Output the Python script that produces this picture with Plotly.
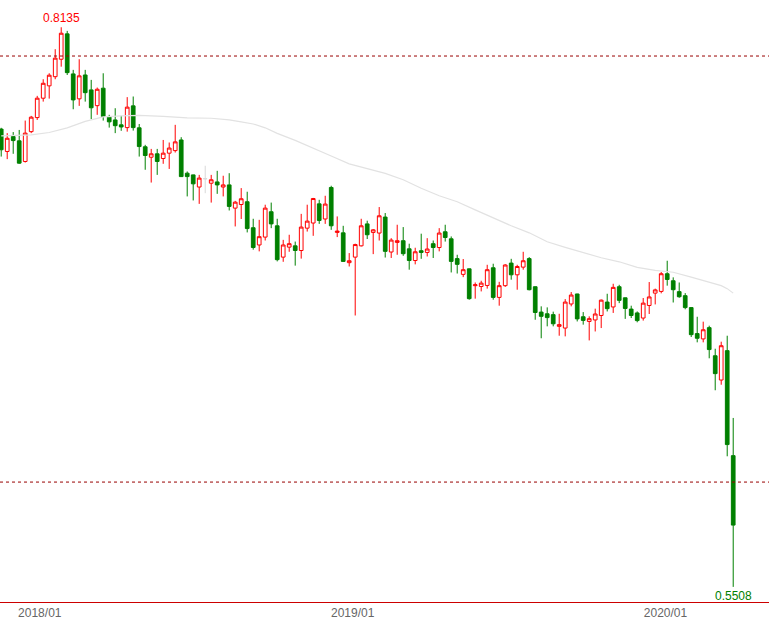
import plotly.graph_objects as go
import pandas as pd

# ---- data (weekly AUD/USD style candles) ----
opens = [0.7657, 0.7552, 0.7622, 0.7602, 0.7505, 0.7645, 0.7711, 0.7802, 0.7860, 0.7903,
         0.7985, 0.8104, 0.7916, 0.7799, 0.7911, 0.7841, 0.7767, 0.7849, 0.7713, 0.7700,
         0.7677, 0.7664, 0.7766, 0.7663, 0.7574, 0.7525, 0.7541, 0.7519, 0.7544, 0.7556,
         0.7606, 0.7450, 0.7442, 0.7385, 0.7424, 0.7403, 0.7409, 0.7385, 0.7395, 0.7286,
         0.7303, 0.7316, 0.7194, 0.7113, 0.7150, 0.7269, 0.7203, 0.7056, 0.7103, 0.7109,
         0.7087, 0.7192, 0.7216, 0.7306, 0.7235, 0.7383, 0.7172, 0.7170, 0.7030, 0.7056,
         0.7109, 0.7212, 0.7172, 0.7169, 0.7244, 0.7080, 0.7125, 0.7133, 0.7095, 0.7040,
         0.7086, 0.7078, 0.7119, 0.7101, 0.7175, 0.7142, 0.7049, 0.6975, 0.7001, 0.6922,
         0.6918, 0.6923, 0.7006, 0.6867, 0.6922, 0.7028, 0.6973, 0.7009, 0.7049, 0.6917,
         0.6798, 0.6790, 0.6786, 0.6731, 0.6723, 0.6836, 0.6883, 0.6776, 0.6754, 0.6761,
         0.6782, 0.6845, 0.6822, 0.6917, 0.6865, 0.6812, 0.6794, 0.6770, 0.6829, 0.6887,
         0.6895, 0.6978, 0.6945, 0.6894, 0.6875, 0.6819, 0.6697, 0.6672, 0.6725, 0.6593,
         0.6479, 0.6617, 0.6124]
highs = [0.7663, 0.7638, 0.7643, 0.7653, 0.7697, 0.7719, 0.7813, 0.7891, 0.7919, 0.8032,
         0.8135, 0.8118, 0.7935, 0.7985, 0.7935, 0.7888, 0.7852, 0.7919, 0.7724, 0.7755,
         0.7719, 0.7807, 0.7810, 0.7681, 0.7583, 0.7564, 0.7564, 0.7606, 0.7594, 0.7677,
         0.7619, 0.7458, 0.7443, 0.7442, 0.7485, 0.7442, 0.7461, 0.7438, 0.7450, 0.7320,
         0.7380, 0.7363, 0.7236, 0.7231, 0.7302, 0.7312, 0.7236, 0.7137, 0.7161, 0.7129,
         0.7259, 0.7302, 0.7334, 0.7325, 0.7344, 0.7391, 0.7247, 0.7203, 0.7075, 0.7119,
         0.7236, 0.7227, 0.7188, 0.7291, 0.7263, 0.7145, 0.7208, 0.7197, 0.7119, 0.7100,
         0.7166, 0.7145, 0.7134, 0.7192, 0.7208, 0.7153, 0.7067, 0.7047, 0.7002, 0.6937,
         0.6945, 0.7020, 0.7025, 0.6940, 0.7023, 0.7048, 0.7020, 0.7081, 0.7056, 0.6918,
         0.6825, 0.6820, 0.6800, 0.6790, 0.6859, 0.6892, 0.6884, 0.6798, 0.6778, 0.6814,
         0.6857, 0.6884, 0.6931, 0.6926, 0.6866, 0.6828, 0.6801, 0.6864, 0.6939, 0.6908,
         0.6986, 0.7039, 0.6961, 0.6937, 0.6887, 0.6820, 0.6776, 0.6753, 0.6734, 0.6626,
         0.6659, 0.6687, 0.6301]
lows = [0.7528, 0.7516, 0.7541, 0.7494, 0.7500, 0.7638, 0.7700, 0.7786, 0.7800, 0.7891,
        0.7950, 0.7911, 0.7750, 0.7766, 0.7786, 0.7704, 0.7724, 0.7697, 0.7664, 0.7638,
        0.7649, 0.7645, 0.7650, 0.7528, 0.7466, 0.7406, 0.7442, 0.7494, 0.7470, 0.7547,
        0.7432, 0.7341, 0.7322, 0.7306, 0.7356, 0.7312, 0.7353, 0.7341, 0.7275, 0.7200,
        0.7235, 0.7172, 0.7091, 0.7083, 0.7134, 0.7192, 0.7036, 0.7034, 0.7081, 0.7016,
        0.7049, 0.7176, 0.7156, 0.7212, 0.7212, 0.7184, 0.7150, 0.7034, 0.7012, 0.6782,
        0.7106, 0.7141, 0.7070, 0.7134, 0.7054, 0.7052, 0.7067, 0.7062, 0.6997, 0.7022,
        0.7048, 0.7059, 0.7052, 0.7083, 0.7129, 0.6984, 0.6979, 0.6962, 0.6856, 0.6861,
        0.6895, 0.6908, 0.6856, 0.6828, 0.6916, 0.6950, 0.6903, 0.6997, 0.6900, 0.6762,
        0.6675, 0.6731, 0.6731, 0.6687, 0.6684, 0.6825, 0.6754, 0.6739, 0.6665, 0.6707,
        0.6723, 0.6801, 0.6794, 0.6840, 0.6766, 0.6770, 0.6750, 0.6758, 0.6789, 0.6834,
        0.6886, 0.6922, 0.6843, 0.6865, 0.6811, 0.6681, 0.6656, 0.6656, 0.6581, 0.6431,
        0.6457, 0.6121, 0.5508]
closes = [0.7560, 0.7614, 0.7603, 0.7497, 0.7638, 0.7713, 0.7802, 0.7872, 0.7910, 0.7990,
          0.8107, 0.7922, 0.7794, 0.7907, 0.7828, 0.7757, 0.7844, 0.7716, 0.7691, 0.7673,
          0.7667, 0.7760, 0.7664, 0.7575, 0.7533, 0.7541, 0.7505, 0.7544, 0.7568, 0.7597,
          0.7434, 0.7434, 0.7400, 0.7427, 0.7424, 0.7419, 0.7395, 0.7395, 0.7294, 0.7314,
          0.7330, 0.7190, 0.7101, 0.7152, 0.7286, 0.7212, 0.7044, 0.7113, 0.7119, 0.7087,
          0.7197, 0.7225, 0.7331, 0.7228, 0.7305, 0.7203, 0.7178, 0.7036, 0.7039, 0.7115,
          0.7203, 0.7161, 0.7184, 0.7250, 0.7083, 0.7136, 0.7133, 0.7072, 0.7040, 0.7081,
          0.7078, 0.7094, 0.7101, 0.7169, 0.7148, 0.7036, 0.7022, 0.6997, 0.6861, 0.6926,
          0.6934, 0.6997, 0.6867, 0.6922, 0.7019, 0.6973, 0.7012, 0.7039, 0.6903, 0.6796,
          0.6778, 0.6772, 0.6743, 0.6739, 0.6845, 0.6878, 0.6766, 0.6759, 0.6767, 0.6789,
          0.6854, 0.6814, 0.6914, 0.6853, 0.6815, 0.6782, 0.6758, 0.6840, 0.6869, 0.6902,
          0.6978, 0.6951, 0.6903, 0.6870, 0.6819, 0.6692, 0.6675, 0.6715, 0.6622, 0.6509,
          0.6640, 0.6176, 0.5798]

# moving-average line, read at selected bars
ma_bar = [0, 5, 8, 11, 14, 17, 20, 23, 27, 31, 35, 38, 40, 42, 44, 46, 49, 52, 55, 58,
          61, 64, 67, 70, 73, 76, 79, 82, 85, 88, 91, 94, 97, 100, 103, 106, 109, 112,
          115, 118, 120, 121, 122]
ma_val = [0.7625, 0.7630, 0.7641, 0.7663, 0.7693, 0.7714, 0.7719, 0.7721, 0.7717, 0.7710,
          0.7708, 0.7700, 0.7691, 0.7681, 0.7663, 0.7637, 0.7604, 0.7569, 0.7531, 0.7494,
          0.7470, 0.7449, 0.7419, 0.7379, 0.7344, 0.7316, 0.7278, 0.7241, 0.7203, 0.7170,
          0.7128, 0.7102, 0.7079, 0.7053, 0.7034, 0.7008, 0.6994, 0.6985, 0.6962, 0.6938,
          0.6922, 0.6908, 0.6887]

ref_levels = [0.80, 0.60]
tick_dates = ["2018-01-01", "2019-01-01", "2020-01-01"]
tick_text = ["2018/01", "2019/01", "2020/01"]

dates = list(pd.date_range("2017-11-17", periods=len(closes), freq="W-FRI"))
n = len(closes)

doji = [opens[i] == closes[i] for i in range(n)]
main_i = [i for i in range(n) if not doji[i]]
gray_i = [i for i in range(n) if doji[i]]

def pick(arr, idx):
    return [arr[i] for i in idx]

fig = go.Figure()

fig.add_trace(go.Scatter(
    x=pick(dates, ma_bar), y=ma_val, mode="lines",
    line=dict(color="#e2e2e2", width=1.2), hoverinfo="skip", showlegend=False))

fig.add_trace(go.Candlestick(
    x=pick(dates, main_i), open=pick(opens, main_i), high=pick(highs, main_i),
    low=pick(lows, main_i), close=pick(closes, main_i),
    increasing=dict(line=dict(color="#ff0000", width=1), fillcolor="#ffffff"),
    decreasing=dict(line=dict(color="#008000", width=1), fillcolor="#008000"),
    whiskerwidth=0, showlegend=False, hoverinfo="skip"))

if gray_i:
    fig.add_trace(go.Candlestick(
        x=pick(dates, gray_i), open=pick(opens, gray_i), high=pick(highs, gray_i),
        low=pick(lows, gray_i), close=pick(closes, gray_i),
        increasing=dict(line=dict(color="#d8d8d8", width=1), fillcolor="#d8d8d8"),
        decreasing=dict(line=dict(color="#d8d8d8", width=1), fillcolor="#d8d8d8"),
        whiskerwidth=0, showlegend=False, hoverinfo="skip"))

for lv in ref_levels:
    fig.add_shape(type="line", xref="paper", x0=0, x1=1, yref="y", y0=lv, y1=lv,
                  line=dict(color="#990000", width=1, dash="3px,3px"))

imax = highs.index(max(highs))
imin = lows.index(min(lows))
fig.add_annotation(x=dates[imax], y=highs[imax], text=f"{highs[imax]:.4f}",
                   showarrow=False, yanchor="bottom", yshift=0,
                   font=dict(color="#ff0000", size=12, family="Liberation Sans"))
fig.add_annotation(x=dates[imin], y=lows[imin], text=f"{lows[imin]:.4f}",
                   showarrow=False, yanchor="top", yshift=0,
                   font=dict(color="#008000", size=12, family="Liberation Sans"))

x_left = dates[0] - pd.Timedelta(hours=34)
x_right = dates[-1] + pd.Timedelta(hours=1002)

fig.update_layout(
    width=769, height=620,
    margin=dict(l=0, r=0, t=0, b=18),
    paper_bgcolor="#ffffff", plot_bgcolor="#ffffff",
    showlegend=False,
    boxgap=0.12,
    xaxis=dict(type="date", range=[x_left, x_right], rangeslider=dict(visible=False),
               tickvals=tick_dates, ticktext=tick_text, ticks="",
               showgrid=False, zeroline=False, showline=True,
               linecolor="#cc0000", linewidth=1,
               tickfont=dict(size=12, color="#666666", family="Liberation Sans")),
    yaxis=dict(range=[0.5437, 0.8263], visible=False, showgrid=False, zeroline=False),
)

fig.write_html("out.html", config={"displayModeBar": False},
               post_script="document.body.style.margin='0';document.body.style.overflow='hidden';")
